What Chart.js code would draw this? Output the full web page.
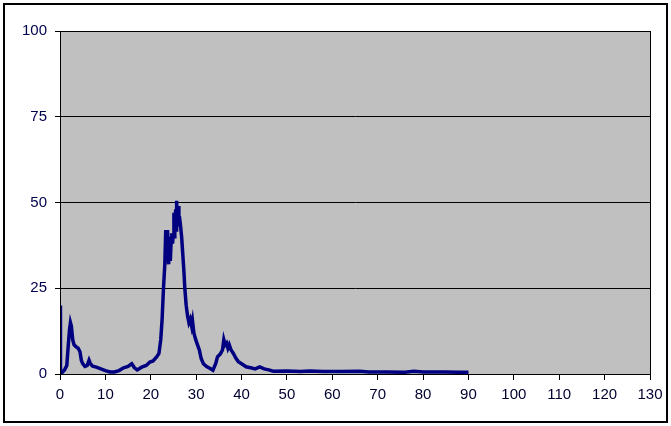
<!DOCTYPE html>
<html lang="en">
  <head>
    <meta charset="UTF-8" />
    <title>Chart</title>
    <script src="https://cdn.jsdelivr.net/npm/chart.js@4.4.0/dist/chart.umd.min.js"></script>
    <style>
      body {
        margin: 0;
        background-color: #ffffff;
      }
      #wrap {
        width: 671px;
        height: 426px;
        position: relative;
      }
    </style>
  </head>
  <body>
    <div id="wrap">
      <canvas id="myChart" width="671" height="426"></canvas>
    </div>

    <script>
      // values
      const xVals = [
        0, 0.1, 0.5, 1.0, 1.5, 1.8, 2.1, 2.3, 2.5, 2.8, 3.1, 3.5, 4.0, 4.4, 4.7,
        5.0, 5.5, 6.0, 6.4, 6.7, 7.2, 8, 9, 10, 11, 12, 13, 14, 15, 15.8, 16.4,
        17, 18, 19, 19.8, 20.5, 21.3, 21.8, 22.2, 22.5, 22.8, 23.1, 23.3, 23.4,
        23.5, 23.6, 23.7, 23.8, 23.9, 24.0, 24.1, 24.2, 24.3, 24.5, 24.6, 24.8,
        24.9, 25.1, 25.2, 25.3, 25.5, 25.6, 25.7, 25.8, 25.9, 26.1, 26.2, 26.3,
        26.5, 26.8, 27.0, 27.3, 27.5, 27.8, 28.1, 28.4, 28.7, 29.0, 29.2, 29.5,
        29.9, 30.3, 30.7, 31.1, 31.6, 32.3, 33.0, 33.7, 34.3, 34.7, 35.3, 35.8,
        36.1, 36.4, 36.7, 37.0, 37.3, 37.7, 38.2, 38.8, 39.3, 40, 41, 42, 43, 44,
        45, 46, 47, 50, 53, 55, 58, 62, 66, 68, 72, 76, 78, 80, 85, 88, 90,
      ];
      const yVals = [
        20, 0.5, 0.5, 1.2, 2.5, 8, 13, 15, 14, 10, 8.5, 8, 7.5, 6.5, 4, 3, 2.2,
        2.5, 4, 3, 2.3, 2, 1.5, 1, 0.6, 0.6, 1, 1.8, 2.2, 3, 1.8, 1.2, 2, 2.5,
        3.5, 3.8, 5, 6, 10, 16, 25, 32, 42, 35, 41, 33, 42, 34, 32, 39, 36, 40,
        33, 39, 41, 38, 40, 47, 40, 44, 48, 42, 50.5, 45, 44, 49, 43, 46, 44, 40,
        36, 30, 25, 20, 17, 15, 16, 14, 15.5, 12, 10, 8.5, 7, 4.5, 3, 2.2, 1.7,
        1.1, 3, 5, 5.8, 7, 10, 8.5, 9, 7.5, 8.5, 7, 6, 4.5, 3.6, 3, 2.1, 1.8,
        1.5, 2.1, 1.5, 1.2, 0.8, 0.9, 0.7, 0.9, 0.7, 0.7, 0.8, 0.6, 0.6, 0.5,
        0.8, 0.6, 0.6, 0.5, 0.5,
      ];
      const xTicks = [0, 10, 20, 30, 40, 50, 60, 70, 80, 90, 100, 110, 120, 130];
      const yTicks = [0, 25, 50, 75, 100];

      const points = xVals.map((x, i) => ({ x: x, y: yVals[i] }));

      // grey plot area, black frame round it and round the whole chart
      const frame = {
        id: "frame",
        beforeDraw(chart) {
          const ctx = chart.ctx;
          const a = chart.chartArea;
          ctx.save();
          ctx.fillStyle = "#ffffff";
          ctx.fillRect(0, 0, chart.width, chart.height);
          ctx.fillStyle = "#c0c0c0";
          ctx.fillRect(a.left, a.top, a.right - a.left, a.bottom - a.top);
          ctx.restore();
        },
        afterDraw(chart) {
          const ctx = chart.ctx;
          const a = chart.chartArea;
          ctx.save();
          ctx.strokeStyle = "#000";
          ctx.lineWidth = 1;
          ctx.strokeRect(a.left + 0.5, a.top + 0.5, a.right - a.left, a.bottom - a.top);
          ctx.lineWidth = 2;
          ctx.strokeRect(4, 4, chart.width - 8, chart.height - 8);
          ctx.restore();
        },
      };

      const ctx = document.getElementById("myChart").getContext("2d");
      new Chart(ctx, {
        type: "scatter",
        data: {
          datasets: [
            {
              data: points,
              showLine: true,
              borderColor: "#000080",
              borderWidth: 3.5,
              pointRadius: 0,
              tension: 0,
            },
          ],
        },
        options: {
          responsive: false,
          animation: false,
          layout: { padding: { left: 0, right: 21, top: 31, bottom: 0 } },
          plugins: {
            legend: { display: false },
            tooltip: { enabled: false },
          },
          scales: {
            x: {
              type: "linear",
              min: 0,
              max: 130,
              afterBuildTicks: (s) => {
                s.ticks = xTicks.map((v) => ({ value: v }));
              },
              afterFit: (s) => {
                s.height = 52;
              },
              grid: {
                drawOnChartArea: false,
                color: "#000",
                tickLength: 6,
              },
              border: { color: "#000" },
              ticks: {
                color: "#000030",
                padding: 6,
                maxRotation: 0,
                font: { family: "'Liberation Sans', Arial", size: 15 },
              },
            },
            y: {
              min: 0,
              max: 100,
              afterBuildTicks: (s) => {
                s.ticks = yTicks.map((v) => ({ value: v }));
              },
              afterFit: (s) => {
                s.width = 60;
              },
              grid: { color: "#000", tickLength: 5 },
              border: { color: "#000" },
              ticks: {
                color: "#000050",
                padding: 8,
                font: { family: "'Liberation Sans', Arial", size: 15 },
              },
            },
          },
        },
        plugins: [frame],
      });
    </script>
  </body>
</html>
